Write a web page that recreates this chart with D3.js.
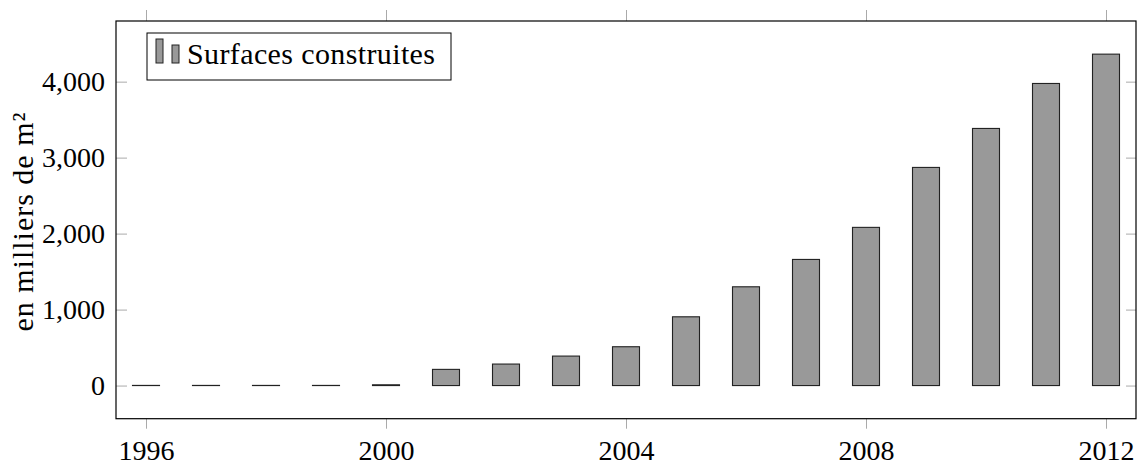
<html>
<head>
<script src="https://d3js.org/d3.v7.min.js"></script>
<style>
body { margin: 0; background: #fff; }
text { font-family: "Liberation Serif", "DejaVu Serif", serif; fill: #000; }
</style>
</head>
<body>
<svg id="chart"></svg>
<script>
var years = [1996, 1997, 1998, 1999, 2000, 2001, 2002, 2003, 2004, 2005, 2006, 2007, 2008, 2009, 2010, 2011, 2012];
var surfaces = [2, 2, 2, 2, 10, 213, 283, 388, 511, 905, 1300, 1660, 2082, 2871, 3384, 3976, 4362];
var xTicks = [1996, 2000, 2004, 2008, 2012];
var yTicks = [0, 1000, 2000, 3000, 4000];
var seriesName = "Surfaces construites";
var yLabel = "en milliers de m²";

var W = 1137, H = 462;
var plotLeft = 116, plotRight = 1136, plotTop = 21, plotBottom = 418.7;

var svg = d3.select("#chart").attr("width", W).attr("height", H);

// pgfplots style: enlarge limits by 10% of the data range
var maxV = d3.max(surfaces);
var x = d3.scaleLinear().domain([years[0] - 0.5, years[years.length - 1] + 0.5]).range([plotLeft, plotRight]);
var y = d3.scaleLinear().domain([-0.1 * maxV, 1.1 * maxV]).range([plotBottom, plotTop]);

var barW = 27;

// axes
var gx = svg.append("g").attr("transform", "translate(0," + plotBottom + ")")
	.call(d3.axisBottom(x).tickValues(xTicks).tickSize(10).tickPadding(11).tickFormat(d3.format("d")));
var gxTop = svg.append("g").attr("transform", "translate(0," + plotTop + ")")
	.call(d3.axisTop(x).tickValues(xTicks).tickSize(11).tickFormat(""));
var gy = svg.append("g").attr("transform", "translate(" + plotLeft + ",0)")
	.call(d3.axisLeft(y).tickValues(yTicks).tickSize(-11).tickPadding(11).tickFormat(d3.format(",")));
var gyR = svg.append("g").attr("transform", "translate(" + plotRight + ",0)")
	.call(d3.axisRight(y).tickValues(yTicks).tickSize(-10).tickFormat(""));

[gx, gxTop, gy, gyR].forEach(function(g) {
	g.select(".domain").remove();
	g.selectAll(".tick line").attr("stroke", "#aaa").attr("stroke-width", 1);
	g.selectAll(".tick text").attr("font-size", 28).attr("font-family", null);
});

// bars
svg.selectAll(".bar")
	.data(years)
	.enter().append("rect")
	.attr("class", "bar")
	.attr("x", function(d) { return x(d) - barW / 2; })
	.attr("width", barW)
	.attr("y", function(d, i) { return y(surfaces[i]); })
	.attr("height", function(d, i) { return y(0) - y(surfaces[i]); })
	.attr("fill", "#999")
	.attr("stroke", "#222")
	.attr("stroke-width", 1.1);

// frame
svg.append("rect")
	.attr("x", plotLeft).attr("y", plotTop)
	.attr("width", plotRight - plotLeft).attr("height", plotBottom - plotTop)
	.attr("fill", "none").attr("stroke", "#000").attr("stroke-width", 1.2);

// y label
svg.append("text")
	.attr("transform", "translate(33,222) rotate(-90)")
	.attr("text-anchor", "middle")
	.attr("font-size", 30)
	.attr("textLength", 219)
	.attr("lengthAdjust", "spacing")
	.text(yLabel);

// legend
var lg = svg.append("g");
lg.append("rect")
	.attr("x", 147).attr("y", 33).attr("width", 304).attr("height", 47)
	.attr("fill", "#fff").attr("stroke", "#000").attr("stroke-width", 1);
lg.append("rect").attr("x", 156).attr("y", 39).attr("width", 7).attr("height", 24)
	.attr("fill", "#999").attr("stroke", "#222").attr("stroke-width", 1);
lg.append("rect").attr("x", 172).attr("y", 45).attr("width", 7).attr("height", 18)
	.attr("fill", "#999").attr("stroke", "#222").attr("stroke-width", 1);
lg.append("text")
	.attr("x", 187).attr("y", 64)
	.attr("font-size", 30)
	.attr("textLength", 248)
	.attr("lengthAdjust", "spacing")
	.text(seriesName);
</script>
</body>
</html>
